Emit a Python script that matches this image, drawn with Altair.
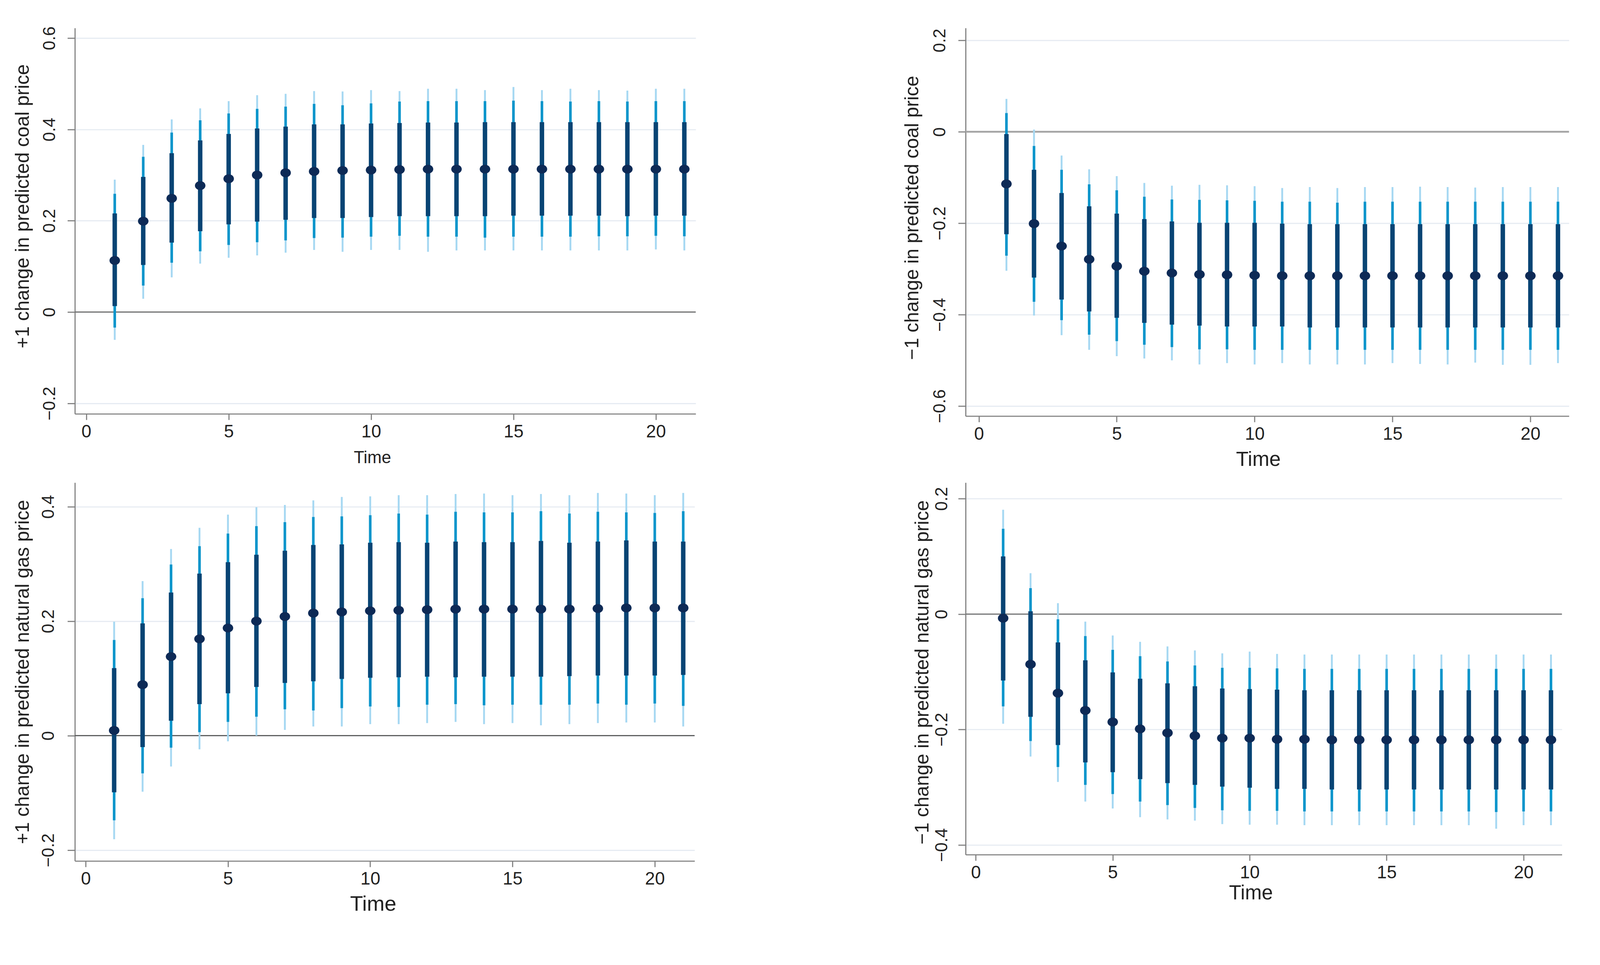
import altair as alt
import pandas as pd

time = list(range(1, 22))

# Panel A: +1 change in predicted coal price
a_est = [0.113, 0.199, 0.249, 0.277, 0.292, 0.300, 0.305, 0.308, 0.310, 0.311, 0.312,
         0.313, 0.313, 0.313, 0.313, 0.313, 0.313, 0.313, 0.313, 0.313, 0.313]
a_in_hi = [0.216, 0.296, 0.348, 0.376, 0.390, 0.402, 0.406, 0.411, 0.411, 0.413, 0.414,
           0.415, 0.415, 0.416, 0.416, 0.416, 0.416, 0.416, 0.416, 0.416, 0.416]
a_in_lo = [0.013, 0.103, 0.152, 0.177, 0.192, 0.198, 0.202, 0.206, 0.206, 0.208, 0.210,
           0.210, 0.210, 0.210, 0.211, 0.211, 0.211, 0.211, 0.210, 0.211, 0.211]
a_mid_hi = [0.259, 0.340, 0.393, 0.420, 0.435, 0.445, 0.450, 0.456, 0.453, 0.457, 0.461,
            0.462, 0.462, 0.462, 0.463, 0.462, 0.461, 0.462, 0.461, 0.462, 0.462]
a_mid_lo = [-0.034, 0.058, 0.108, 0.133, 0.147, 0.153, 0.157, 0.162, 0.163, 0.165, 0.167,
            0.165, 0.165, 0.163, 0.165, 0.165, 0.165, 0.166, 0.166, 0.167, 0.166]
a_out_hi = [0.290, 0.366, 0.422, 0.446, 0.462, 0.475, 0.478, 0.484, 0.483, 0.486, 0.484,
            0.489, 0.489, 0.486, 0.493, 0.486, 0.489, 0.486, 0.485, 0.489, 0.489]
a_out_lo = [-0.061, 0.029, 0.076, 0.106, 0.119, 0.124, 0.130, 0.136, 0.132, 0.136, 0.136,
            0.132, 0.135, 0.135, 0.135, 0.135, 0.135, 0.135, 0.135, 0.137, 0.135]

# Panel B: -1 change in predicted coal price
b_est = [-0.114, -0.201, -0.250, -0.279, -0.294, -0.305, -0.309, -0.312, -0.313, -0.314, -0.315,
         -0.315, -0.315, -0.315, -0.315, -0.315, -0.315, -0.315, -0.315, -0.315, -0.315]
b_in_hi = [-0.005, -0.083, -0.134, -0.163, -0.179, -0.191, -0.196, -0.199, -0.199, -0.199, -0.201,
           -0.202, -0.202, -0.202, -0.202, -0.202, -0.202, -0.202, -0.202, -0.202, -0.202]
b_in_lo = [-0.224, -0.319, -0.367, -0.393, -0.407, -0.418, -0.422, -0.424, -0.426, -0.426, -0.426,
           -0.428, -0.428, -0.428, -0.428, -0.428, -0.428, -0.428, -0.428, -0.428, -0.428]
b_mid_hi = [0.041, -0.031, -0.083, -0.115, -0.128, -0.142, -0.148, -0.149, -0.150, -0.151, -0.153,
            -0.153, -0.155, -0.153, -0.153, -0.153, -0.153, -0.153, -0.153, -0.153, -0.153]
b_mid_lo = [-0.271, -0.372, -0.412, -0.444, -0.458, -0.466, -0.471, -0.476, -0.476, -0.477, -0.477,
            -0.477, -0.477, -0.477, -0.477, -0.477, -0.477, -0.477, -0.477, -0.477, -0.477]
b_out_hi = [0.072, 0.005, -0.052, -0.082, -0.097, -0.112, -0.118, -0.116, -0.117, -0.119, -0.123,
            -0.121, -0.123, -0.121, -0.121, -0.120, -0.121, -0.122, -0.121, -0.121, -0.121]
b_out_lo = [-0.304, -0.402, -0.445, -0.477, -0.491, -0.496, -0.500, -0.509, -0.506, -0.509, -0.506,
            -0.509, -0.509, -0.509, -0.506, -0.508, -0.509, -0.505, -0.510, -0.510, -0.506]

# Panel C: +1 change in predicted natural gas price
c_est = [0.009, 0.089, 0.138, 0.169, 0.188, 0.200, 0.208, 0.214, 0.216, 0.218, 0.219,
         0.220, 0.221, 0.221, 0.221, 0.221, 0.221, 0.222, 0.223, 0.223, 0.223]
c_in_hi = [0.118, 0.196, 0.250, 0.283, 0.303, 0.316, 0.323, 0.333, 0.334, 0.337, 0.338,
           0.337, 0.339, 0.338, 0.338, 0.340, 0.337, 0.339, 0.341, 0.339, 0.339]
c_in_lo = [-0.099, -0.020, 0.026, 0.055, 0.074, 0.085, 0.092, 0.095, 0.099, 0.101, 0.102,
           0.103, 0.102, 0.103, 0.103, 0.103, 0.104, 0.105, 0.105, 0.105, 0.106]
c_mid_hi = [0.167, 0.240, 0.299, 0.331, 0.353, 0.366, 0.373, 0.382, 0.383, 0.385, 0.388,
            0.386, 0.391, 0.390, 0.390, 0.392, 0.388, 0.391, 0.390, 0.389, 0.392]
c_mid_lo = [-0.148, -0.066, -0.021, 0.006, 0.024, 0.033, 0.046, 0.044, 0.048, 0.051, 0.050,
            0.054, 0.055, 0.053, 0.054, 0.054, 0.054, 0.056, 0.054, 0.056, 0.052]
c_out_hi = [0.199, 0.270, 0.326, 0.363, 0.386, 0.399, 0.403, 0.411, 0.417, 0.418, 0.420,
            0.420, 0.422, 0.423, 0.420, 0.422, 0.420, 0.424, 0.423, 0.420, 0.424]
c_out_lo = [-0.181, -0.098, -0.054, -0.024, -0.010, 0.000, 0.010, 0.016, 0.016, 0.020, 0.020,
            0.022, 0.024, 0.020, 0.022, 0.018, 0.020, 0.022, 0.023, 0.023, 0.016]

# Panel D: -1 change in predicted natural gas price
d_est = [-0.007, -0.087, -0.137, -0.167, -0.187, -0.199, -0.206, -0.211, -0.215, -0.215, -0.217,
         -0.217, -0.218, -0.218, -0.218, -0.218, -0.218, -0.218, -0.218, -0.218, -0.218]
d_in_hi = [0.100, 0.005, -0.049, -0.080, -0.101, -0.112, -0.120, -0.125, -0.129, -0.130, -0.131,
           -0.132, -0.132, -0.132, -0.132, -0.132, -0.132, -0.132, -0.132, -0.132, -0.132]
d_in_lo = [-0.115, -0.178, -0.227, -0.257, -0.274, -0.286, -0.293, -0.296, -0.299, -0.301, -0.303,
           -0.303, -0.304, -0.304, -0.304, -0.304, -0.304, -0.304, -0.304, -0.304, -0.304]
d_mid_hi = [0.148, 0.045, -0.009, -0.038, -0.062, -0.073, -0.082, -0.089, -0.093, -0.093, -0.094,
            -0.095, -0.095, -0.095, -0.095, -0.095, -0.095, -0.095, -0.095, -0.095, -0.095]
d_mid_lo = [-0.160, -0.220, -0.265, -0.296, -0.312, -0.325, -0.331, -0.336, -0.340, -0.341, -0.341,
            -0.342, -0.342, -0.342, -0.342, -0.342, -0.342, -0.342, -0.343, -0.342, -0.342]
d_out_hi = [0.181, 0.071, 0.019, -0.013, -0.037, -0.048, -0.056, -0.063, -0.068, -0.065, -0.069,
            -0.070, -0.070, -0.070, -0.070, -0.070, -0.070, -0.070, -0.070, -0.070, -0.070]
d_out_lo = [-0.190, -0.247, -0.291, -0.325, -0.337, -0.352, -0.356, -0.358, -0.364, -0.365, -0.365,
            -0.366, -0.366, -0.366, -0.366, -0.366, -0.366, -0.366, -0.372, -0.366, -0.366]

x_ticks = [0, 5, 10, 15, 20]

OUTER = "#a6d8f2"
MID = "#0a95cb"
INNER = "#084474"
DOT = "#0d2a56"
FONT = "Liberation Sans"
ELLIPSE = "M-1,0A1,0.85,0,1,0,1,0A1,0.85,0,1,0,-1,0Z"


def make_df(est, ilo, ihi, mlo, mhi, olo, ohi):
    return pd.DataFrame({"t": time, "est": est, "ilo": ilo, "ihi": ihi,
                         "mlo": mlo, "mhi": mhi, "olo": olo, "ohi": ohi})


def panel(df, ytitle, ydom, yvals, xdom, w, h, zero_color, zero_w,
          y_ext, y_lpad, ytitle_y, x_title_size, x_ext, xtitle_x):
    xs = alt.Scale(domain=xdom, nice=False, zero=False)
    ys = alt.Scale(domain=ydom, nice=False, zero=False)
    xax = alt.Axis(values=x_ticks, format="d", title="Time", grid=False,
                   tickSize=16, labelPadding=9, labelFontSize=48,
                   titleFontSize=x_title_size, minExtent=x_ext, maxExtent=x_ext,
                   titlePadding=0, titleX=xtitle_x, titleAnchor="start", titleAlign="center")
    yax = alt.Axis(values=yvals, format=".1~f", title=ytitle, grid=True,
                   tickSize=20, labelAngle=-90, labelAlign="center",
                   labelBaseline="alphabetic", labelPadding=y_lpad, labelFontSize=46,
                   titleFontSize=52, minExtent=y_ext, maxExtent=y_ext, titlePadding=0,
                   titleY=ytitle_y, titleAlign="center")
    base = alt.Chart(df)
    X = alt.X("t:Q", scale=xs, axis=xax)
    zero = base.transform_aggregate(n="count()").transform_calculate(zero="0").mark_rule(
        color=zero_color, strokeWidth=zero_w).encode(
        y=alt.Y("zero:Q", scale=ys, axis=yax))
    outer = base.mark_rule(color=OUTER, strokeWidth=5).encode(
        x=X, y=alt.Y("olo:Q", scale=ys, axis=yax), y2="ohi:Q")
    mid = base.mark_rule(color=MID, strokeWidth=7).encode(
        x=X, y=alt.Y("mlo:Q", scale=ys, axis=yax), y2="mhi:Q")
    inner = base.mark_rule(color=INNER, strokeWidth=12).encode(
        x=X, y=alt.Y("ilo:Q", scale=ys, axis=yax), y2="ihi:Q")
    dots = base.mark_point(shape=ELLIPSE, filled=True, size=800, color=DOT,
                           opacity=1, strokeWidth=0).encode(
        x=X, y=alt.Y("est:Q", scale=ys, axis=yax))
    return alt.layer(zero, outer, mid, inner, dots).properties(width=w, height=h)


pa = panel(make_df(a_est, a_in_lo, a_in_hi, a_mid_lo, a_mid_hi, a_out_lo, a_out_hi),
           "+1 change in predicted coal price", [-0.223, 0.622], [-0.2, 0, 0.2, 0.4, 0.6],
           [-0.4, 21.4], 1670, 1038, "#6e6e6e", 3, 113, 34, 479, 46, 96, 800)
pb = panel(make_df(b_est, b_in_lo, b_in_hi, b_mid_lo, b_mid_hi, b_out_lo, b_out_hi),
           "\u22121 change in predicted coal price", [-0.622, 0.227], [-0.6, -0.4, -0.2, 0, 0.2],
           [-0.48, 21.4], 1623, 1044, "#a6a6a6", 5, 117, 35, 510, 55, 91, 787)
pc = panel(make_df(c_est, c_in_lo, c_in_hi, c_mid_lo, c_mid_hi, c_out_lo, c_out_hi),
           "+1 change in predicted natural gas price", [-0.219, 0.442], [-0.2, 0, 0.2, 0.4],
           [-0.38, 21.4], 1667, 1018, "#555555", 3, 113, 37, 509, 57, 88, 802)
pd_ = panel(make_df(d_est, d_in_lo, d_in_hi, d_mid_lo, d_mid_hi, d_out_lo, d_out_hi),
            "\u22121 change in predicted natural gas price", [-0.417, 0.228], [-0.4, -0.2, 0, 0.2],
            [-0.37, 21.4], 1604, 1001, "#777777", 3, 89, 30, 510, 54, 77, 767)

chart = alt.concat(
    pa, pb, pc, pd_,
    columns=2,
    spacing={"row": 179, "column": 726},
    bounds="flush",
).properties(
    padding={"left": 27, "top": 0, "right": 72, "bottom": 57},
    background="white",
).configure_view(stroke=None).configure_axis(
    labelFont=FONT, titleFont=FONT, labelColor="#222222", titleColor="#222222",
    titleFontWeight="normal", domainColor="#808080", domainWidth=3,
    tickColor="#808080", tickWidth=3, gridColor="#e6ebf2", gridWidth=3,
)

chart.save("out.html", embed_options={"renderer": "svg", "actions": False})
